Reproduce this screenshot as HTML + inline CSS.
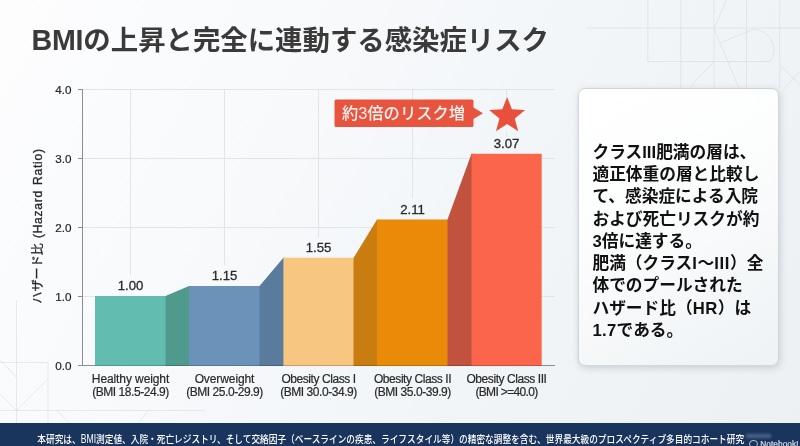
<!DOCTYPE html>
<html lang="ja">
<head>
<meta charset="utf-8">
<title>BMIの上昇と完全に連動する感染症リスク</title>
<style>
html,body{margin:0;padding:0;}
body{width:800px;height:446px;overflow:hidden;position:relative;background:#f5f7f9;
  font-family:"Liberation Sans","Noto Sans CJK JP",sans-serif;color:#333;}
#bg{position:absolute;left:0;top:0;width:800px;height:446px;
  background:linear-gradient(118deg,#fdfdfe 0%,#f7f9fb 35%,#f0f4f7 70%,#ecf0f3 100%);}
svg#art{position:absolute;left:0;top:0;width:800px;height:446px;}
.abs{position:absolute;white-space:nowrap;}
#title{left:31.4px;top:18.5px;font-size:27.4px;font-weight:700;color:#3a3a3a;line-height:44px;height:44px;}
.ytick{-webkit-text-stroke:0.2px #262626;width:40px;text-align:right;font-size:11.7px;line-height:14px;height:14px;color:#262626;left:31.5px;margin-top:0.5px;}
.val{-webkit-text-stroke:0.3px #2a2a2a;width:80px;text-align:center;font-size:13.2px;line-height:16px;height:16px;color:#2a2a2a;margin-top:0.3px;}
.xl{-webkit-text-stroke:0.2px #2a2a2a;width:110px;text-align:center;font-size:12px;line-height:13.3px;color:#2a2a2a;top:372.6px;letter-spacing:-0.1px;}
.xl b{font-weight:normal;letter-spacing:-0.43px;}
.xl i{font-style:normal;letter-spacing:-0.45px;}
#ylab{left:-62.5px;top:218px;width:200px;text-align:center;font-size:12.1px;line-height:16px;height:16px;color:#262626;transform:rotate(-90deg);transform-origin:50% 50%;-webkit-text-stroke:0.3px #262626;}
#ye{letter-spacing:0.72px;word-spacing:1px;}
#callout{left:334px;top:98.8px;width:139px;height:28px;line-height:28px;text-align:center;color:#fdf3f0;font-weight:500;font-size:16.3px;}
#card{left:577.5px;top:87.8px;width:201px;height:278px;border-radius:7px;box-sizing:border-box;
  border:1px solid rgba(170,177,185,.5);
  background:linear-gradient(150deg,#ffffff 0%,#fcfdfd 40%,#eef2f5 100%);
  box-shadow:1px 2px 7px rgba(40,60,80,.2);}
#cardtext{left:592.5px;top:141.9px;font-size:16.7px;line-height:22.25px;font-weight:700;color:#111;}
#footer{left:0;top:422.7px;width:800px;height:24px;background:#19345d;}
#foottext{left:37.3px;top:430.9px;font-size:8.69px;line-height:16px;color:#fff;font-weight:500;transform:scaleY(1.18);transform-origin:0 50%;}
#foottext b{display:inline-block;font-weight:500;transform:scaleY(1.28);transform-origin:0 52%;}
#wm{left:760.3px;top:437.2px;font-size:8.3px;line-height:14px;color:#e4eaf2;opacity:.9;letter-spacing:0.05px;-webkit-text-stroke:0.2px #e4eaf2;}
#wmicon{left:749.3px;top:439.8px;width:6.5px;height:6.5px;border:1.3px solid #dfe6ee;border-radius:50%;opacity:.8;}
#smear{left:746px;top:433.5px;width:25px;height:4px;background:rgba(220,228,238,.28);filter:blur(1.5px);}
</style>
</head>
<body>
<div id="bg"></div>
<svg id="art" viewBox="0 0 800 446" width="800" height="446">
  <!-- faint background geometry -->
  <g fill="none" stroke="#c9d1d9" stroke-opacity="0.42" stroke-width="1">
    <path d="M585 28H800M647.8 0V61.5H770M680.8 0V88M714 0V88M746.5 0V88M779.7 0V88"/>
    <path d="M726.3 0L714 29L738.6 87.4M720.7 42.6L754.3 29A23 21 0 0 1 770 61.5M714 61.5L690.4 86.3M780 65L800 85M800 71.7L783.4 89.6"/>
    <path d="M0 362.5H48M0 410.5H205M16.5 300V423M48 362.5V423M0 359.5L16.5 377.5M16.5 410.5L48 379M0 394L16.5 410.5M57 410.5L69 423M138 423L148.5 410.5"/>
  </g>
  <!-- grid -->
  <g stroke="#e1e4e8" stroke-width="1" fill="none">
    <path d="M82 89.5H555M82 158.5H555M82 227.5H555M82 296.5H555"/>
    <path d="M130.5 89V275M224.5 89V265M318.5 89V237M412.5 89V198M506.5 89V98M506.5 131V137"/>
  </g>
  <!-- axes -->
  <g stroke="#8a8d91" stroke-width="1" fill="none">
    <path d="M82.5 89V365M78 89.5H82M78 158.5H82M78 227.5H82M78 296.5H82"/>
    <path d="M78 365.5H555"/>
  </g>
  <!-- connectors -->
  <polygon points="165.5,296 189,286 190,286 190,366 165,366 165,296" fill="#4f9a8d"/>
  <polygon points="259.5,286 283.4,257.7 285,257.7 285,366 259,366 259,286" fill="#5b7b9d"/>
  <polygon points="353.5,258 377,219.5 378,219.5 378,366 353,366 353,258" fill="#c97d10"/>
  <polygon points="447.5,219.5 471.5,153.8 473,153.8 473,366 447,366 447,219.5" fill="#c1523d"/>
  <!-- bars -->
  <rect x="95" y="296" width="70.5" height="70" fill="#62bdb0"/>
  <rect x="189" y="286" width="70.5" height="80" fill="#6b93ba"/>
  <rect x="283.4" y="257.7" width="70.1" height="108.3" fill="#f7c781"/>
  <rect x="377" y="219.5" width="70.5" height="146.5" fill="#e98b08"/>
  <rect x="471.5" y="153.8" width="70.2" height="212.2" fill="#fb654b"/>
  <path d="M95 365.5H541.7" stroke="#000" stroke-opacity="0.2" stroke-width="1" fill="none"/>
  <!-- callout -->
  <path d="M336 99.5H472Q473.5 99.5 473.5 101V107.5L483 113.3L473.5 119V125.5Q473.5 127 472 127H336Q334.5 127 334.5 125.5V101Q334.5 99.5 336 99.5Z" fill="#e9543f"/>
  <!-- star -->
  <polygon points="507.1,97.0 511.9,109.3 525.1,110.1 514.8,118.4 518.2,131.2 507.1,124.0 496.0,131.2 499.4,118.4 489.1,110.1 502.3,109.3" fill="#e9503c"/>
</svg>

<div id="title" class="abs"><span style="font-size:28.6px;letter-spacing:-0.15px;line-height:1">BMI</span>の上昇と完全に連動する感染症リスク</div>

<div class="abs ytick" style="top:82px">4.0</div>
<div class="abs ytick" style="top:151px">3.0</div>
<div class="abs ytick" style="top:220px">2.0</div>
<div class="abs ytick" style="top:289px">1.0</div>
<div class="abs ytick" style="top:358px">0.0</div>
<div id="ylab" class="abs"><span id="yj">ハザード比</span><span id="ye"> (Hazard Ratio)</span></div>

<div class="abs val" style="left:90.5px;top:278px">1.00</div>
<div class="abs val" style="left:184.5px;top:268px">1.15</div>
<div class="abs val" style="left:278.5px;top:240px">1.55</div>
<div class="abs val" style="left:372.5px;top:201.5px">2.11</div>
<div class="abs val" style="left:466.5px;top:135.4px">3.07</div>

<div class="abs xl" style="left:75.5px">Healthy weight<br><i>(BMI 18.5-24.9)</i></div>
<div class="abs xl" style="left:169.5px">Overweight<br><i>(BMI 25.0-29.9)</i></div>
<div class="abs xl" style="left:263.5px"><b>Obesity Class I</b><br><i>(BMI 30.0-34.9)</i></div>
<div class="abs xl" style="left:357.5px"><b>Obesity Class II</b><br><i>(BMI 35.0-39.9)</i></div>
<div class="abs xl" style="left:451.5px"><b>Obesity Class III</b><br><i style="letter-spacing:-0.65px">(BMI &gt;=40.0)</i></div>

<div id="callout" class="abs">約3倍のリスク増</div>

<div id="card" class="abs"></div>
<div id="cardtext" class="abs">クラスIII肥満の層は、<br>適正体重の層と比較し<br>て、感染症による入院<br>および死亡リスクが約<br>3倍に達する。<br>肥満（クラス<span style="letter-spacing:0.6px">I</span>〜<span style="letter-spacing:0.6px">III</span>）全<br>体でのプールされた<br>ハザード比（<span style="letter-spacing:0.5px">HR</span>）は<br><span style="letter-spacing:0.3px">1.7</span>である。</div>

<div id="footer" class="abs"></div>
<div id="foottext" class="abs">本研究は、<b>BMI</b>測定値、入院・死亡レジストリ、そして交絡因子（ベースラインの疾患、ライフスタイル等）の精密な調整を含む、世界最大級のプロスペクティブ多目的コホート研究</div>
<div id="smear" class="abs"></div>
<div id="wmicon" class="abs"></div>
<div id="wm" class="abs">NotebookLM</div>
</body>
</html>
